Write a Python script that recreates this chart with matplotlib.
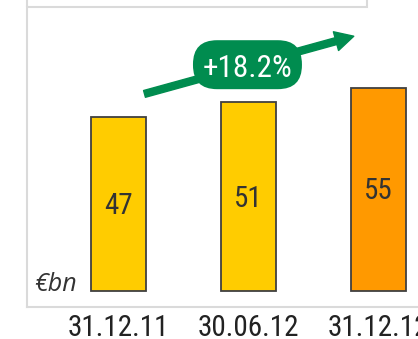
import matplotlib
matplotlib.use("Agg")
import matplotlib.pyplot as plt
from matplotlib.patches import Rectangle, FancyBboxPatch

# data
dates = ["31.12.11", "30.06.12", "31.12.12"]
values = [47, 51, 55]
bar_colors = ["#FFCC00", "#FFCC00", "#FF9900"]
growth_label = "+18.2%"
unit_label = "€bn"

plt.rcParams["font.family"] = ["Roboto Condensed", "DejaVu Sans"]

W, H = 418, 339
fig = plt.figure(figsize=(W / 100, H / 100), dpi=100)
# axes placed in pixel terms: left line at x=27, bottom line at y=307, top at y=7
ax = fig.add_axes([27 / W, (H - 307) / H, (W - 27) / W, 300 / H])

x = list(range(len(values)))
ax.bar(x, values, width=0.42, color=bar_colors, edgecolor="#404040", linewidth=1.3, zorder=3)

for xi, v in zip(x, values):
    ax.text(xi, v / 2 - 0.5, str(v), ha="center", va="center", fontsize=21, color="#333333", zorder=4)

ax.set_xlim(-0.704, 2.304)
ax.set_ylim(-4.32, 76.8)

ax.set_xticks(x)
ax.set_xticklabels(dates, fontsize=21, color="#222222")
ax.tick_params(axis="x", length=0, pad=5)
ax.set_yticks([])

for s in ["top", "right"]:
    ax.spines[s].set_visible(False)
for s in ["left", "bottom"]:
    ax.spines[s].set_color("#DADADA")
    ax.spines[s].set_linewidth(1.5)

# grey frame piece at the very top (box above the chart)
ax.add_patch(Rectangle((0, 1.0), (367 - 27) / (W - 27), 0.05, transform=ax.transAxes,
                       fill=False, edgecolor="#DADADA", linewidth=1.5, clip_on=False))

# unit label
ax.text(-0.645, 0, unit_label, ha="left", va="baseline", fontsize=18,
        style="italic", color="#333333", family=["Open Sans", "DejaVu Sans"])

# growth arrow and badge
green = "#008C4F"
ax.annotate("", xy=(1.81, 68.9), xytext=(0.2, 53.3),
            arrowprops=dict(arrowstyle="simple,head_length=0.95,head_width=1.0,tail_width=0.36",
                            color=green, mutation_scale=14, shrinkA=0, shrinkB=0), zorder=5)

# pill shaped badge, 109 x 49 px (130 px per x unit, 3.7 px per y unit)
bw, bh = 109 / 130, 49 / 3.7
bx, by = 0.992, 61.2
badge = FancyBboxPatch((bx - bw / 2, by - bh / 2), bw, bh,
                       boxstyle="round,pad=0,rounding_size=%.3f" % (24 / 130),
                       mutation_aspect=130 / 3.7, fc=green, ec="none", zorder=6)
ax.add_patch(badge)
ax.text(bx, 57.8, growth_label, ha="center", va="baseline", fontsize=22.5, color="white", zorder=7)

fig.savefig("out.png", dpi=100)
